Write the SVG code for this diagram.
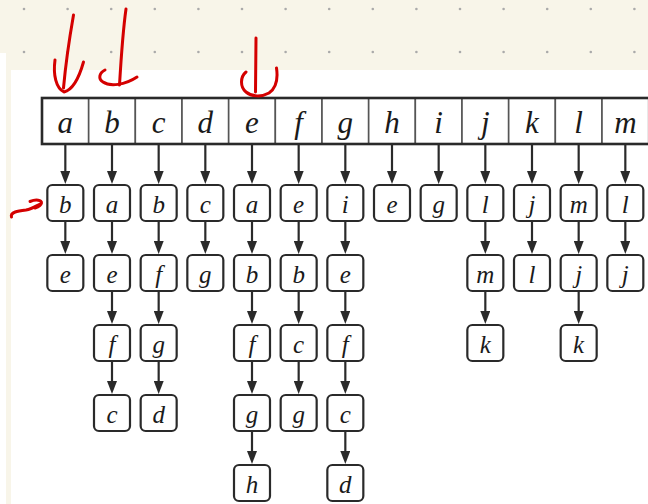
<svg xmlns="http://www.w3.org/2000/svg" width="648" height="504" viewBox="0 0 648 504">
<style>
.cell{fill:#fff;stroke:#555;stroke-width:1.6}
.box{fill:#fff;stroke:#2a2a2a;stroke-width:2.2}
.t{font-family:"Liberation Serif","Times New Roman",serif;font-style:italic;fill:#1a1a1a;text-anchor:middle}
.ta{font-size:31px}
.tb{font-size:25px}
.con line{stroke:#2a2a2a;stroke-width:2.2}
.red{fill:none;stroke:#d40000;stroke-width:3;stroke-linecap:round;stroke-linejoin:round}
.dot{fill:#aaa}
</style>
<defs>
<marker id="ah" markerUnits="userSpaceOnUse" viewBox="0 0 13 10" markerWidth="13" markerHeight="10" refX="6" refY="5" orient="auto">
<path d="M0,0 L13,5 L0,10 z" fill="#2a2a2a"/>
</marker>
</defs>
<rect x="0" y="0" width="648" height="504" fill="#f8f5e9"/>
<rect x="0" y="53" width="6" height="451" fill="#fff"/>
<rect x="11" y="70" width="637" height="434" fill="#fff"/>
<g id="dots">
<circle class="dot" cx="24" cy="9" r="1.3"/><circle class="dot" cx="67.6" cy="9" r="1.3"/><circle class="dot" cx="111.2" cy="9" r="1.3"/><circle class="dot" cx="154.8" cy="9" r="1.3"/><circle class="dot" cx="198.4" cy="9" r="1.3"/><circle class="dot" cx="242" cy="9" r="1.3"/><circle class="dot" cx="285.6" cy="9" r="1.3"/><circle class="dot" cx="329.2" cy="9" r="1.3"/><circle class="dot" cx="372.8" cy="9" r="1.3"/><circle class="dot" cx="416.4" cy="9" r="1.3"/><circle class="dot" cx="460" cy="9" r="1.3"/><circle class="dot" cx="503.6" cy="9" r="1.3"/><circle class="dot" cx="547.2" cy="9" r="1.3"/><circle class="dot" cx="590.8" cy="9" r="1.3"/><circle class="dot" cx="634.4" cy="9" r="1.3"/>
<circle class="dot" cx="24" cy="52" r="1.3"/><circle class="dot" cx="67.6" cy="52" r="1.3"/><circle class="dot" cx="111.2" cy="52" r="1.3"/><circle class="dot" cx="154.8" cy="52" r="1.3"/><circle class="dot" cx="198.4" cy="52" r="1.3"/><circle class="dot" cx="242" cy="52" r="1.3"/><circle class="dot" cx="285.6" cy="52" r="1.3"/><circle class="dot" cx="329.2" cy="52" r="1.3"/><circle class="dot" cx="372.8" cy="52" r="1.3"/><circle class="dot" cx="416.4" cy="52" r="1.3"/><circle class="dot" cx="460" cy="52" r="1.3"/><circle class="dot" cx="503.6" cy="52" r="1.3"/><circle class="dot" cx="547.2" cy="52" r="1.3"/><circle class="dot" cx="590.8" cy="52" r="1.3"/><circle class="dot" cx="634.4" cy="52" r="1.3"/>
</g>
<g id="array">
<g id="cell-a"><rect class="cell" x="42" y="98" width="46.67" height="46"/><text class="t ta" x="65.33" y="133">a</text></g>
<g id="cell-b"><rect class="cell" x="88.67" y="98" width="46.67" height="46"/><text class="t ta" x="112" y="133">b</text></g>
<g id="cell-c"><rect class="cell" x="135.33" y="98" width="46.67" height="46"/><text class="t ta" x="158.67" y="133">c</text></g>
<g id="cell-d"><rect class="cell" x="182" y="98" width="46.67" height="46"/><text class="t ta" x="205.33" y="133">d</text></g>
<g id="cell-e"><rect class="cell" x="228.67" y="98" width="46.67" height="46"/><text class="t ta" x="252" y="133">e</text></g>
<g id="cell-f"><rect class="cell" x="275.33" y="98" width="46.67" height="46"/><text class="t ta" x="298.67" y="133">f</text></g>
<g id="cell-g"><rect class="cell" x="322" y="98" width="46.67" height="46"/><text class="t ta" x="345.33" y="133">g</text></g>
<g id="cell-h"><rect class="cell" x="368.67" y="98" width="46.67" height="46"/><text class="t ta" x="392" y="133">h</text></g>
<g id="cell-i"><rect class="cell" x="415.33" y="98" width="46.67" height="46"/><text class="t ta" x="438.67" y="133">i</text></g>
<g id="cell-j"><rect class="cell" x="462" y="98" width="46.67" height="46"/><text class="t ta" x="485.33" y="133">j</text></g>
<g id="cell-k"><rect class="cell" x="508.67" y="98" width="46.67" height="46"/><text class="t ta" x="532" y="133">k</text></g>
<g id="cell-l"><rect class="cell" x="555.33" y="98" width="46.67" height="46"/><text class="t ta" x="578.67" y="133">l</text></g>
<g id="cell-m"><rect class="cell" x="602" y="98" width="46.67" height="46"/><text class="t ta" x="625.33" y="133">m</text></g>
<rect x="42" y="98" width="610" height="46" fill="none" stroke="#2a2a2a" stroke-width="2.6"/>
</g>
<g id="connectors" class="con">
<line x1="65.33" y1="145" x2="65.33" y2="177" marker-end="url(#ah)"/>
<line x1="65.33" y1="221" x2="65.33" y2="247" marker-end="url(#ah)"/>
<line x1="112" y1="145" x2="112" y2="177" marker-end="url(#ah)"/>
<line x1="112" y1="221" x2="112" y2="247" marker-end="url(#ah)"/>
<line x1="112" y1="291" x2="112" y2="317" marker-end="url(#ah)"/>
<line x1="112" y1="361" x2="112" y2="387" marker-end="url(#ah)"/>
<line x1="158.67" y1="145" x2="158.67" y2="177" marker-end="url(#ah)"/>
<line x1="158.67" y1="221" x2="158.67" y2="247" marker-end="url(#ah)"/>
<line x1="158.67" y1="291" x2="158.67" y2="317" marker-end="url(#ah)"/>
<line x1="158.67" y1="361" x2="158.67" y2="387" marker-end="url(#ah)"/>
<line x1="205.33" y1="145" x2="205.33" y2="177" marker-end="url(#ah)"/>
<line x1="205.33" y1="221" x2="205.33" y2="247" marker-end="url(#ah)"/>
<line x1="252" y1="145" x2="252" y2="177" marker-end="url(#ah)"/>
<line x1="252" y1="221" x2="252" y2="247" marker-end="url(#ah)"/>
<line x1="252" y1="291" x2="252" y2="317" marker-end="url(#ah)"/>
<line x1="252" y1="361" x2="252" y2="387" marker-end="url(#ah)"/>
<line x1="252" y1="431" x2="252" y2="457" marker-end="url(#ah)"/>
<line x1="298.67" y1="145" x2="298.67" y2="177" marker-end="url(#ah)"/>
<line x1="298.67" y1="221" x2="298.67" y2="247" marker-end="url(#ah)"/>
<line x1="298.67" y1="291" x2="298.67" y2="317" marker-end="url(#ah)"/>
<line x1="298.67" y1="361" x2="298.67" y2="387" marker-end="url(#ah)"/>
<line x1="345.33" y1="145" x2="345.33" y2="177" marker-end="url(#ah)"/>
<line x1="345.33" y1="221" x2="345.33" y2="247" marker-end="url(#ah)"/>
<line x1="345.33" y1="291" x2="345.33" y2="317" marker-end="url(#ah)"/>
<line x1="345.33" y1="361" x2="345.33" y2="387" marker-end="url(#ah)"/>
<line x1="345.33" y1="431" x2="345.33" y2="457" marker-end="url(#ah)"/>
<line x1="392" y1="145" x2="392" y2="177" marker-end="url(#ah)"/>
<line x1="438.67" y1="145" x2="438.67" y2="177" marker-end="url(#ah)"/>
<line x1="485.33" y1="145" x2="485.33" y2="177" marker-end="url(#ah)"/>
<line x1="485.33" y1="221" x2="485.33" y2="247" marker-end="url(#ah)"/>
<line x1="485.33" y1="291" x2="485.33" y2="317" marker-end="url(#ah)"/>
<line x1="532" y1="145" x2="532" y2="177" marker-end="url(#ah)"/>
<line x1="532" y1="221" x2="532" y2="247" marker-end="url(#ah)"/>
<line x1="578.67" y1="145" x2="578.67" y2="177" marker-end="url(#ah)"/>
<line x1="578.67" y1="221" x2="578.67" y2="247" marker-end="url(#ah)"/>
<line x1="578.67" y1="291" x2="578.67" y2="317" marker-end="url(#ah)"/>
<line x1="625.33" y1="145" x2="625.33" y2="177" marker-end="url(#ah)"/>
<line x1="625.33" y1="221" x2="625.33" y2="247" marker-end="url(#ah)"/>
</g>
<g id="lists">
<g id="a-1"><rect class="box" x="47.33" y="185" width="36" height="36" rx="5"/><text class="t tb" x="65.33" y="213">b</text></g>
<g id="a-2"><rect class="box" x="47.33" y="255" width="36" height="36" rx="5"/><text class="t tb" x="65.33" y="283">e</text></g>
<g id="b-1"><rect class="box" x="94" y="185" width="36" height="36" rx="5"/><text class="t tb" x="112" y="213">a</text></g>
<g id="b-2"><rect class="box" x="94" y="255" width="36" height="36" rx="5"/><text class="t tb" x="112" y="283">e</text></g>
<g id="b-3"><rect class="box" x="94" y="325" width="36" height="36" rx="5"/><text class="t tb" x="112" y="353">f</text></g>
<g id="b-4"><rect class="box" x="94" y="395" width="36" height="36" rx="5"/><text class="t tb" x="112" y="423">c</text></g>
<g id="c-1"><rect class="box" x="140.67" y="185" width="36" height="36" rx="5"/><text class="t tb" x="158.67" y="213">b</text></g>
<g id="c-2"><rect class="box" x="140.67" y="255" width="36" height="36" rx="5"/><text class="t tb" x="158.67" y="283">f</text></g>
<g id="c-3"><rect class="box" x="140.67" y="325" width="36" height="36" rx="5"/><text class="t tb" x="158.67" y="353">g</text></g>
<g id="c-4"><rect class="box" x="140.67" y="395" width="36" height="36" rx="5"/><text class="t tb" x="158.67" y="423">d</text></g>
<g id="d-1"><rect class="box" x="187.33" y="185" width="36" height="36" rx="5"/><text class="t tb" x="205.33" y="213">c</text></g>
<g id="d-2"><rect class="box" x="187.33" y="255" width="36" height="36" rx="5"/><text class="t tb" x="205.33" y="283">g</text></g>
<g id="e-1"><rect class="box" x="234" y="185" width="36" height="36" rx="5"/><text class="t tb" x="252" y="213">a</text></g>
<g id="e-2"><rect class="box" x="234" y="255" width="36" height="36" rx="5"/><text class="t tb" x="252" y="283">b</text></g>
<g id="e-3"><rect class="box" x="234" y="325" width="36" height="36" rx="5"/><text class="t tb" x="252" y="353">f</text></g>
<g id="e-4"><rect class="box" x="234" y="395" width="36" height="36" rx="5"/><text class="t tb" x="252" y="423">g</text></g>
<g id="e-5"><rect class="box" x="234" y="465" width="36" height="36" rx="5"/><text class="t tb" x="252" y="493">h</text></g>
<g id="f-1"><rect class="box" x="280.67" y="185" width="36" height="36" rx="5"/><text class="t tb" x="298.67" y="213">e</text></g>
<g id="f-2"><rect class="box" x="280.67" y="255" width="36" height="36" rx="5"/><text class="t tb" x="298.67" y="283">b</text></g>
<g id="f-3"><rect class="box" x="280.67" y="325" width="36" height="36" rx="5"/><text class="t tb" x="298.67" y="353">c</text></g>
<g id="f-4"><rect class="box" x="280.67" y="395" width="36" height="36" rx="5"/><text class="t tb" x="298.67" y="423">g</text></g>
<g id="g-1"><rect class="box" x="327.33" y="185" width="36" height="36" rx="5"/><text class="t tb" x="345.33" y="213">i</text></g>
<g id="g-2"><rect class="box" x="327.33" y="255" width="36" height="36" rx="5"/><text class="t tb" x="345.33" y="283">e</text></g>
<g id="g-3"><rect class="box" x="327.33" y="325" width="36" height="36" rx="5"/><text class="t tb" x="345.33" y="353">f</text></g>
<g id="g-4"><rect class="box" x="327.33" y="395" width="36" height="36" rx="5"/><text class="t tb" x="345.33" y="423">c</text></g>
<g id="g-5"><rect class="box" x="327.33" y="465" width="36" height="36" rx="5"/><text class="t tb" x="345.33" y="493">d</text></g>
<g id="h-1"><rect class="box" x="374" y="185" width="36" height="36" rx="5"/><text class="t tb" x="392" y="213">e</text></g>
<g id="i-1"><rect class="box" x="420.67" y="185" width="36" height="36" rx="5"/><text class="t tb" x="438.67" y="213">g</text></g>
<g id="j-1"><rect class="box" x="467.33" y="185" width="36" height="36" rx="5"/><text class="t tb" x="485.33" y="213">l</text></g>
<g id="j-2"><rect class="box" x="467.33" y="255" width="36" height="36" rx="5"/><text class="t tb" x="485.33" y="283">m</text></g>
<g id="j-3"><rect class="box" x="467.33" y="325" width="36" height="36" rx="5"/><text class="t tb" x="485.33" y="353">k</text></g>
<g id="k-1"><rect class="box" x="514" y="185" width="36" height="36" rx="5"/><text class="t tb" x="532" y="213">j</text></g>
<g id="k-2"><rect class="box" x="514" y="255" width="36" height="36" rx="5"/><text class="t tb" x="532" y="283">l</text></g>
<g id="l-1"><rect class="box" x="560.67" y="185" width="36" height="36" rx="5"/><text class="t tb" x="578.67" y="213">m</text></g>
<g id="l-2"><rect class="box" x="560.67" y="255" width="36" height="36" rx="5"/><text class="t tb" x="578.67" y="283">j</text></g>
<g id="l-3"><rect class="box" x="560.67" y="325" width="36" height="36" rx="5"/><text class="t tb" x="578.67" y="353">k</text></g>
<g id="m-1"><rect class="box" x="607.33" y="185" width="36" height="36" rx="5"/><text class="t tb" x="625.33" y="213">l</text></g>
<g id="m-2"><rect class="box" x="607.33" y="255" width="36" height="36" rx="5"/><text class="t tb" x="625.33" y="283">j</text></g>
</g>
<g id="annotations">
<path class="red" d="M73.5,15 C70,35 66,60 63.5,88"/>
<path class="red" d="M55,60 C53,75 56,88 64,92 C72,90 79,78 83.5,62"/>
<path class="red" d="M126,9 C123,30 121,60 119.5,85"/>
<path class="red" d="M105,70 C99,73 98,79 103,82 C110,87 125,85 137,77"/>
<path class="red" d="M256,38 C256,55 255.5,75 255.5,92"/>
<path class="red" d="M246,72 C240,77 240,87 246,92 C252,97 262,97 269,93 C276,88 278,78 276.5,68"/>
<path class="red" d="M11.5,217 C10,212 18,211 26,210 C32,209 36,206 40,204"/>
<path class="red" d="M30,201.5 C36,199 42,200 41.5,203 C41,206 38,207 35,208"/>
</g>
</svg>
